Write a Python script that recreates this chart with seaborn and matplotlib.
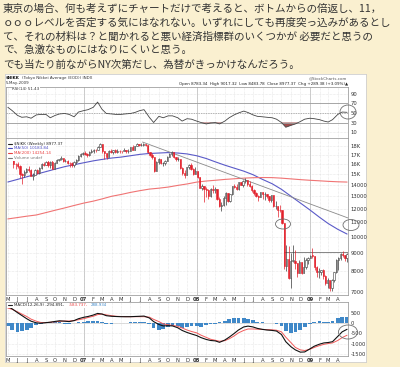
import matplotlib
matplotlib.use('Agg')
import numpy as np
import pandas as pd
import seaborn as sns
import matplotlib.pyplot as plt
from matplotlib.patches import Ellipse
from matplotlib.ticker import NullLocator


# weekly candles, Friday closes, May 2006 - May 2009
weeks = pd.date_range('2006-05-05', '2009-05-01', freq='W-FRI')
first_open = 16906
closes = [
    17153, 16601, 16073, 15970, 15790, 15010, 14880, 15200, 15505, 15380, 14850, 14950, 15450,
    15150, 15570, 16040, 15940, 16230, 15880, 16220, 15560, 16127, 16450, 16540, 16650, 16330,
    16350, 16110, 16090, 15900, 16270, 16420, 16900, 17090, 17225,
    17090, 16940, 17370, 17420, 17550, 17500, 17900, 18190, 17450, 17160, 16750, 17480, 17290,
    17490, 17360, 17450, 17400, 17390, 17550, 17400, 17450, 17880, 17570, 18000, 18190, 18140,
    18140, 18240, 18160, 17280, 16980, 16760, 15270, 16250, 16570, 16120, 16130, 16310, 16790,
    17060, 17330, 16810, 16510, 16520, 15580, 15150, 14890, 15680, 15960, 15510, 15030, 15310,
    14690, 13760, 13860, 13630, 13500, 13020, 13620, 13500, 13600, 12780, 12240, 12260, 12820,
    13290, 12590, 13180, 13860, 13850, 13590, 14220, 14010, 14340, 14490, 14080, 13940, 13540,
    13240, 13040, 12900, 13330, 13160, 13170, 13020, 12670, 13070, 12210, 12210, 11920, 11890,
    10940, 8280, 8690, 7650, 8580, 8580, 8460, 7910, 8510, 7920, 8240, 8590, 8740,
    8860, 8840, 8230, 7990, 7990, 8080, 7780, 7420, 7570, 7170, 7570, 7950, 8630,
    8720, 8960, 8910, 8710, 8977,
]
highs = [
    17230, 17400, 16700, 16100, 16200, 15900, 15100, 15400, 15600, 15800, 15500, 15100, 15500,
    15500, 15700, 16100, 16200, 16300, 16450, 16300, 16400, 16200, 16600, 16600, 16900, 16700,
    16500, 16450, 16200, 16200, 16350, 16500, 16950, 17200, 17300,
    17400, 17200, 17400, 17600, 17620, 17650, 17950, 18300, 18250, 17300, 17200, 17500, 17600,
    17550, 17600, 17700, 17550, 17450, 17750, 17550, 17600, 17900, 18100, 18050, 18300, 18200,
    18300, 18300, 18280, 18150, 17350, 17200, 16800, 16350, 16650, 16600, 16200, 16450, 16850,
    17150, 17480, 17350, 16800, 16800, 16300, 15700, 15400, 15750, 16000, 16150, 15600, 15700,
    15200, 14700, 14100, 13900, 13800, 13600, 13700, 13950, 13800, 13300, 12900, 12500, 13000,
    13400, 13300, 13200, 13900, 14100, 14100, 14250, 14300, 14400, 14600, 14400, 14350, 14000,
    13600, 13400, 13100, 13400, 13400, 13400, 13200, 13000, 13100, 13100, 12600, 12200, 12300,
    11900, 10900, 9500, 9400, 8990, 9500, 9200, 8450, 8600, 8500, 8750, 8700, 8800,
    8900, 9330, 8800, 8300, 8150, 8090, 8100, 7800, 7660, 7500, 7600, 7980, 8650,
    8800, 9000, 9100, 8900, 9017,
]
lows = [
    16850, 16550, 15640, 15500, 15600, 14600, 14045, 14700, 15100, 15200, 14800, 14400, 14900,
    15000, 15050, 15500, 15800, 15900, 15750, 15600, 15500, 15550, 16100, 16300, 16400, 16200,
    16200, 16000, 15700, 15700, 15750, 16050, 16350, 16800, 16950,
    17000, 16800, 16900, 17250, 17200, 17350, 17500, 17850, 17200, 16530, 16600, 16900, 17200,
    17100, 17250, 17200, 17250, 17250, 17400, 17250, 17200, 17450, 17500, 17600, 17950, 17950,
    18000, 18050, 17950, 17250, 16850, 16600, 15260, 15500, 16000, 16050, 15800, 15900, 16300,
    16750, 16900, 16700, 16300, 16350, 15500, 14900, 14670, 14900, 15500, 15400, 14900, 15000,
    14600, 13700, 13500, 12570, 12900, 12800, 12900, 13300, 13300, 12700, 12100, 11790, 12200,
    12300, 12500, 12500, 13150, 13700, 13500, 13550, 13950, 13800, 14200, 13900, 13800, 13400,
    13150, 12900, 12650, 12900, 12800, 12700, 12850, 12550, 12550, 12150, 12000, 11400, 11750,
    10900, 8110, 8000, 7600, 7160, 8500, 8100, 7700, 7900, 7850, 7900, 8100, 8400,
    8700, 8700, 8050, 7700, 7680, 7800, 7620, 7340, 7160, 7050, 7050, 7480, 7900,
    8050, 8600, 8800, 8560, 8484,
]

# moving averages, read once a month
months = pd.date_range('2006-05-01', '2009-05-01', freq='MS')
ma50 = [
    14260, 14500, 14750, 15000, 15250, 15500, 15750, 15950,
    16150, 16350, 16500, 16650, 16750, 16900, 17050, 17150, 17200, 17250, 17200, 17100,
    16900, 16600, 16250, 15900, 15600, 15300, 14950, 14500, 14100, 13600, 13000, 12450,
    11900, 11350, 10900, 10500, 10184,
]
ma200 = [
    11230, 11330, 11430, 11520, 11700, 11880, 12060, 12250,
    12440, 12600, 12780, 13000, 13150, 13330, 13480, 13620, 13700, 13800, 13950, 14080,
    14250, 14350, 14420, 14500, 14560, 14620, 14660, 14680, 14670, 14620, 14550, 14480,
    14420, 14370, 14320, 14280, 14254,
]

# indicators, read twice a month (1st and 15th)
half_months = sorted(list(months) + [m + pd.Timedelta(days=14) for m in months[:-1]])
rsi = [
    62, 55, 45, 41, 42, 39, 46, 47, 47, 40, 45, 48, 49, 47, 42, 52,
    55, 57, 62, 73, 58, 49, 48, 47, 47, 48, 49, 51, 55, 57, 41, 30, 43, 40, 44, 44, 40, 33, 38, 37,
    33, 30, 27, 29, 30, 27, 33, 40, 46, 50, 54, 51, 46, 43, 42, 41, 40, 37, 30, 20, 24, 27, 32, 37,
    39, 38, 36, 33, 31, 36, 47, 52, 51.43,
]
macd = [
    820, 700, 520, 380, 220, 100, 20, 0, 30, 50, 90, 120, 100, 80, 130, 220,
    290, 330, 400, 480, 450, 370, 340, 330, 320, 320, 320, 330, 340, 350, 260, 80,
    -60, -130, -120, -130, -220, -350, -450, -520,
    -600, -700, -790, -840, -860, -930, -820, -680, -500, -330, -180, -140, -180, -250,
    -300, -330, -350, -380, -550, -900, -1150, -1300, -1410, -1400,
    -1250, -1120, -1020, -960, -940, -900, -640, -420, -295,
]
signal = [
    740, 680, 560, 450, 330, 200, 100, 40, 30, 50, 70, 90, 110, 110, 130, 170,
    220, 280, 340, 420, 450, 410, 370, 340, 330, 320, 320, 320, 320, 320, 300, 190,
    80, -30, -80, -100, -150, -230, -330, -400,
    -470, -580, -690, -780, -830, -880, -850, -760, -620, -470, -350, -280, -280, -290,
    -300, -310, -320, -340, -420, -680, -950, -1180, -1300, -1330,
    -1270, -1180, -1090, -1030, -990, -960, -840, -700, -584,
]
hist = [
    -150, -330, -420, -400, -330, -220, -100, -30, 30, 50, 40, 40, -30, -40, 30, 60,
    80, 90, 100, 110, 60, -20, -20, 0, 10, 20, 40, 50, 60, 50, -60, -250,
    -340, -300, -200, -120, -150, -250, -200, -150,
    -130, -160, -100, -40, -20, 40, 120, 200, 250, 280, 280, 220, 150, 80,
    40, 30, 20, -20, -150, -380, -480, -430, -330, -200,
    -60, 60, 100, 80, 70, 120, 250, 310, 289,
]

trend_dates = pd.to_datetime(['2007-07-10', '2009-05-04'])
trend_vals = [18470, 11300]
resist_dates = pd.to_datetime(['2008-10-08', '2009-05-04'])
resist_vals = [9050, 9050]

price_ticks = [18000, 17000, 16000, 15000, 14000, 13000, 12000, 11000, 10000, 9000, 8000, 7000]
price_labels = ['18K', '17K', '16K', '15K', '14000', '13000', '12000', '11000', '10000', '9000', '8000', '7000']
rsi_ticks = [90, 70, 50, 30, 10]
macd_ticks = [500, 0, -500, -1000, -1500]

text_lines = [
    '東京の場合、何も考えずにチャートだけで考えると、ボトムからの倍返し、11，',
    'ｏｏｏレベルを否定する気にはなれない。いずれにしても再度突っ込みがあるとし',
    'て、それの材料は？と聞かれると悪い経済指標群のいくつかが 必要だと思うの',
    'で、急激なものにはなりにくいと思う。',
    'でも当たり前ながらNY次第だし、為替がきっかけなんだろう。',
]

W, H = 400, 367


def rect(x0, y0, x1, y1):
    return [x0 / W, 1 - y1 / H, (x1 - x0) / W, (y1 - y0) / H]


sns.set_theme(style='white')
plt.rcParams['font.family'] = ['DejaVu Sans']

fig = plt.figure(figsize=(W / 100, H / 100), dpi=100)
fig.patch.set_facecolor('#FAF0D0')

# white chart card
card = fig.add_axes(rect(5, 74, 366, 362))
card.set_xticks([])
card.set_yticks([])
card.set_facecolor('white')
for s in card.spines.values():
    s.set_color('#CFCFCF')
    s.set_linewidth(0.6)

ax_rsi = fig.add_axes(rect(6, 87, 348, 138))
ax_px = fig.add_axes(rect(6, 138, 348, 295))
ax_macd = fig.add_axes(rect(6, 302, 348, 356))

x_left, x_right = pd.Timestamp('2006-04-25'), pd.Timestamp('2009-05-04')
tick_months = months[:-1]
month_labels = [m.strftime('%y') if m.month == 1 else m.strftime('%b')[0] for m in tick_months]

for ax in (ax_rsi, ax_px, ax_macd):
    ax.set_facecolor('white')
    ax.set_xlim(x_left, x_right)
    for s in ax.spines.values():
        s.set_color('#A0A0A0')
        s.set_linewidth(0.6)
    ax.set_xticks(tick_months)
    ax.grid(True, color='#D4D4D4', lw=0.4, ls=(0, (1, 1.5)))
    ax.yaxis.tick_right()
    ax.tick_params(length=0, labelsize=3.8, colors='#333333', pad=2)
    for yr in ['2007-01-01', '2008-01-01', '2009-01-01']:
        ax.axvline(pd.Timestamp(yr), color='#B4B4B4', lw=0.5, zorder=0.5)
    ax.set_xlabel('')
    ax.set_ylabel('')

for ax in (ax_px, ax_macd):
    ax.set_xticklabels(month_labels)
    ax.tick_params(axis='x', pad=1.2, labelsize=3.8)
    for lab in ax.get_xticklabels():
        if lab.get_text().isdigit():
            lab.set_fontweight('bold')
ax_rsi.tick_params(axis='x', labelbottom=False)

# RSI panel
ax_rsi.set_ylim(-2.6, 104.7)
ax_rsi.axhline(70, color='#9A9A9A', lw=0.6)
ax_rsi.axhline(30, color='#9A9A9A', lw=0.6)
ax_rsi.axhline(50, color='#9A9A9A', lw=0.5, ls=(0, (2, 1.5)))
rsi_arr = np.array(rsi)
ax_rsi.fill_between(half_months, rsi_arr, 30, where=rsi_arr < 30, interpolate=True,
                    color='#9E4C4C', lw=0)
sns.lineplot(x=half_months, y=rsi, ax=ax_rsi, color='#444444', lw=0.6)
ax_rsi.set_yticks(rsi_ticks)
ax_rsi.set_yticklabels([str(t) for t in rsi_ticks])
ax_rsi.set_xlabel('')
ax_rsi.set_ylabel('')

# price panel
ax_px.set_yscale('log')
ax_px.set_ylim(6865, 18956)
ax_px.set_yticks(price_ticks)
ax_px.set_yticklabels(price_labels)
ax_px.yaxis.set_minor_locator(NullLocator())

opens = np.array([first_open] + closes[:-1], dtype=float)
c = np.array(closes, dtype=float)
hi = np.maximum(np.array(highs, dtype=float), np.maximum(opens, c))
lo = np.minimum(np.array(lows, dtype=float), np.minimum(opens, c))
up = c >= opens
edge = np.where(up, '#3A3A3A', '#E3202B')
face = np.where(up, 'white', '#E3202B')
ax_px.vlines(weeks, lo, hi, colors=edge, lw=0.5, zorder=3)
bottoms = np.minimum(opens, c)
heights = np.maximum(np.abs(c - opens), 25)
ax_px.bar(weeks, heights, bottom=bottoms, width=4.2, color=face, edgecolor=edge,
          linewidth=0.4, zorder=4)

sns.lineplot(x=months, y=ma50, ax=ax_px, color='#5A5AC8', lw=0.8, zorder=2)
sns.lineplot(x=months, y=ma200, ax=ax_px, color='#F07474', lw=0.8, zorder=2)
sns.lineplot(x=trend_dates, y=trend_vals, ax=ax_px, color='#8A8A8A', lw=0.6, zorder=2)
sns.lineplot(x=resist_dates, y=resist_vals, ax=ax_px, color='#555555', lw=0.5, zorder=2)
ax_px.set_xlabel('')
ax_px.set_ylabel('')

# MACD panel
ax_macd.set_ylim(-1598, 1037)
ax_macd.bar(half_months, hist, width=12, color='#3F88C8', edgecolor='none', zorder=2)
ax_macd.axhline(0, color='#C8C8C8', lw=0.4, zorder=1)
sns.lineplot(x=half_months, y=signal, ax=ax_macd, color='#F25A5A', lw=0.7, zorder=3)
sns.lineplot(x=half_months, y=macd, ax=ax_macd, color='#111111', lw=0.8, zorder=4)
ax_macd.set_yticks(macd_ticks)
ax_macd.set_yticklabels([str(t) for t in macd_ticks])
ax_macd.set_xlabel('')
ax_macd.set_ylabel('')

# overlay in pixel coordinates for texts and hand-drawn circles
ov = fig.add_axes([0, 0, 1, 1])
ov.set_xlim(0, W)
ov.set_ylim(H, 0)
ov.axis('off')
ov.patch.set_alpha(0)

for i, line in enumerate(text_lines):
    ov.text(3, 9 + i * 14, line, fontsize=7.6, va='center', ha='left', color='#333333',
            family=['Noto Sans CJK JP', 'DejaVu Sans'])

small = dict(fontsize=2.9, va='center', ha='left')
ov.text(6, 78, '$NIKK', fontweight='bold', color='#111111', **small)
ov.text(21.5, 78, '(Tokyo Nikkei Average (EOD)) INDX', color='#333333', **small)
ov.text(347, 78, '@StockCharts.com', color='#555555', fontsize=2.9, va='center', ha='right')
ov.text(6, 83, '5-May-2009', color='#333333', **small)
ov.text(348, 83.5, 'Open 8783.34  High 9017.32  Low 8483.78  Close 8977.37  Chg +289.38 (+3.09%)\u25b2',
        color='#222222', fontsize=2.9, va='center', ha='right')

ov.text(12, 89.5, 'RSI(14) 51.43', color='#333333',
        bbox=dict(facecolor='white', edgecolor='none', pad=0.3), **small)

legend_rows = [
    ('$NIKK (Weekly) 8977.37', '#222222', 143.5),
    ('MA(50) 10183.84', '#4A4AC0', 148.3),
    ('MA(200) 14254.14', '#E84040', 153.1),
    ('Volume undef', '#777777', 157.8),
]
ov.add_patch(plt.Rectangle((6.5, 140.5), 49, 20, facecolor='white', edgecolor='none', zorder=1))
for label, col, yy in legend_rows:
    ov.plot([8, 12], [yy, yy], color=col, lw=0.8, zorder=2)
    ov.text(13.5, yy, label, color=col, zorder=3, **small)

ov.add_patch(plt.Rectangle((6.5, 302.5), 96, 5, facecolor='white', edgecolor='none', zorder=1))
ov.plot([8, 12], [305, 305], color='#222222', lw=0.8, zorder=2)
ov.text(13.5, 305, 'MACD(12,26,9) -294.891,', color='#222222', zorder=3, **small)
ov.text(68.5, 305, '-583.737,', color='#E84040', zorder=3, **small)
ov.text(91, 305, '288.934', color='#3F88C8', zorder=3, **small)

for cx, cy, w, h in [(348, 112, 16, 14), (283, 224, 15, 10), (351, 225, 16, 11), (348, 332, 19, 14)]:
    ov.add_patch(Ellipse((cx, cy), w, h, fill=False, edgecolor='#6E6E6E', lw=0.6, zorder=5))

fig.savefig('out.png', dpi=100, facecolor=fig.get_facecolor())
